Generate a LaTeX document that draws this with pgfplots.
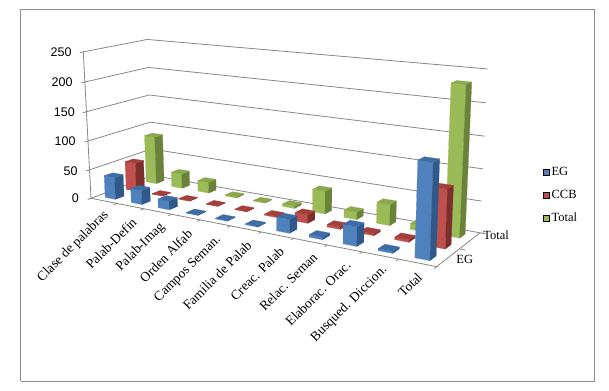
\documentclass[border=0pt]{standalone}
\usepackage{fontspec}
\setmainfont{Liberation Serif}
\newfontfamily\sansf{Liberation Sans}
\usepackage{pgfplots}
\pgfplotsset{compat=1.18}
\definecolor{bluef}{HTML}{4F81BD}\definecolor{blues}{HTML}{30598A}\definecolor{bluet}{HTML}{3E6DA6}
\definecolor{redf}{HTML}{C0504D}\definecolor{reds}{HTML}{7C2F2D}\definecolor{redt}{HTML}{A53F3C}
\definecolor{greenf}{HTML}{9BBB59}\definecolor{greens}{HTML}{6A8239}\definecolor{greent}{HTML}{8AA84C}
\definecolor{axisgray}{HTML}{868686}
\definecolor{framegray}{HTML}{8C8C8C}
\tikzset{zl/.style={anchor=east,inner sep=0pt,font=\sansf\fontsize{12.5}{13}\selectfont},
  cl/.style={rotate=45,anchor=east,inner sep=0pt,font=\fontsize{13.5}{14}\selectfont},
  yl/.style={inner sep=0pt,font=\fontsize{12.5}{13}\selectfont}}
% projective map: category position x (0..11), series slot y (0..3), value z (0..250)
\pgfmathdeclarefunction{PX}{3}{\pgfmathparse{(91+262.7*#1/11+73.5*#2/3-10.7*#3/250)/(1-0.19*#1/11+0.08*#2/3-0.036*#3/250)}}
\pgfmathdeclarefunction{PY}{3}{\pgfmathparse{390-(198.3+17.7*#1/11-8.8*#2/3-148.3*#3/250)/(1-0.19*#1/11+0.08*#2/3-0.036*#3/250)}}
% a line or polygon given in chart coordinates
\newcommand{\chartline}[2]{\addplot[forget plot,#1] table[row sep=\\,
  x expr={PX(\thisrow{a},\thisrow{b},\thisrow{c})},
  y expr={PY(\thisrow{a},\thisrow{b},\thisrow{c})}] {a b c\\ #2};}
\newcommand{\barface}[5]{\addplot[forget plot,fill=#4,draw=#4,line width=0.2pt] table[row sep=\\,
  x expr={PX(#1+0.3+0.4*\thisrow{a},#2+0.3+0.4*\thisrow{b},#3*\thisrow{c})},
  y expr={PY(#1+0.3+0.4*\thisrow{a},#2+0.3+0.4*\thisrow{b},#3*\thisrow{c})}] {a b c\\ #5};}
% category, series slot, value, colour prefix
\newcommand{\cuboid}[4]{%
  \barface{#1}{#2}{#3}{#4f}{0 0 0\\ 1 0 0\\ 1 0 1\\ 0 0 1\\ 0 0 0\\}%
  \barface{#1}{#2}{#3}{#4s}{1 0 0\\ 1 1 0\\ 1 1 1\\ 1 0 1\\ 1 0 0\\}%
  \barface{#1}{#2}{#3}{#4t}{0 0 1\\ 1 0 1\\ 1 1 1\\ 0 1 1\\ 0 0 1\\}}
\begin{document}
\begin{tikzpicture}
\path[use as bounding box] (0,0) rectangle (609pt,390pt);
\begin{axis}[at={(0,0)},anchor=south west,x=1pt,y=1pt,xmin=0,xmax=609,ymin=0,ymax=390,
  hide axis,clip=false,
  legend style={at={(axis cs:543,224.5)},anchor=north west,draw=none,fill=none,
    font=\fontsize{12.5}{13}\selectfont,row sep=9pt,inner sep=0pt,
    /tikz/every even column/.append style={column sep=2pt}},
  legend cell align=left,
  legend image code/.code={\fill[#1] (0pt,-3pt) rectangle (6pt,3pt);},
]
% frame
\addplot[forget plot,framegray,line width=1.2pt] coordinates {(20.5,8.5) (594.3,8.5) (594.3,380.5) (20.5,380.5) (20.5,8.5)};
% walls
\chartline{axisgray,line width=0.8pt}{0 0 50\\ 0 3 50\\ 11 3 50\\}
\chartline{axisgray,line width=0.8pt}{0 0 100\\ 0 3 100\\ 11 3 100\\}
\chartline{axisgray,line width=0.8pt}{0 0 150\\ 0 3 150\\ 11 3 150\\}
\chartline{axisgray,line width=0.8pt}{0 0 200\\ 0 3 200\\ 11 3 200\\}
\chartline{axisgray,line width=0.8pt}{0 0 250\\ 0 3 250\\ 11 3 250\\}
\chartline{axisgray,line width=0.8pt}{0 0 0\\ 0 3 0\\ 11 3 0\\ 11 0 0\\ 0 0 0\\ 0 0 250\\}
% ticks
\chartline{axisgray,line width=0.8pt}{0 0 0\\ 0 -0.15 0\\}
\chartline{axisgray,line width=0.8pt}{0 0 50\\ 0 -0.15 50\\}
\chartline{axisgray,line width=0.8pt}{0 0 100\\ 0 -0.15 100\\}
\chartline{axisgray,line width=0.8pt}{0 0 150\\ 0 -0.15 150\\}
\chartline{axisgray,line width=0.8pt}{0 0 200\\ 0 -0.15 200\\}
\chartline{axisgray,line width=0.8pt}{0 0 250\\ 0 -0.15 250\\}
\chartline{axisgray,line width=0.8pt}{1 0 0\\ 1 -0.15 0\\}
\chartline{axisgray,line width=0.8pt}{2 0 0\\ 2 -0.15 0\\}
\chartline{axisgray,line width=0.8pt}{3 0 0\\ 3 -0.15 0\\}
\chartline{axisgray,line width=0.8pt}{4 0 0\\ 4 -0.15 0\\}
\chartline{axisgray,line width=0.8pt}{5 0 0\\ 5 -0.15 0\\}
\chartline{axisgray,line width=0.8pt}{6 0 0\\ 6 -0.15 0\\}
\chartline{axisgray,line width=0.8pt}{7 0 0\\ 7 -0.15 0\\}
\chartline{axisgray,line width=0.8pt}{8 0 0\\ 8 -0.15 0\\}
\chartline{axisgray,line width=0.8pt}{9 0 0\\ 9 -0.15 0\\}
\chartline{axisgray,line width=0.8pt}{10 0 0\\ 10 -0.15 0\\}
\chartline{axisgray,line width=0.8pt}{11 0 0\\ 11 -0.15 0\\}
\chartline{axisgray,line width=0.8pt}{11 1.5 0\\ 11.15 1.5 0\\}
\chartline{axisgray,line width=0.8pt}{11 3 0\\ 11.15 3 0\\}
% Total (back row)
\cuboid{0}{2}{85}{green}
\cuboid{1}{2}{26}{green}
\cuboid{2}{2}{19}{green}
\cuboid{3}{2}{2}{green}
\cuboid{4}{2}{1}{green}
\cuboid{5}{2}{4}{green}
\cuboid{6}{2}{38}{green}
\cuboid{7}{2}{12}{green}
\cuboid{8}{2}{34}{green}
\cuboid{9}{2}{9}{green}
\cuboid{10}{2}{232}{green}
% CCB
\cuboid{0}{1}{50}{red}
\cuboid{1}{1}{1}{red}
\cuboid{2}{1}{1}{red}
\cuboid{3}{1}{1}{red}
\cuboid{4}{1}{1}{red}
\cuboid{5}{1}{2}{red}
\cuboid{6}{1}{14}{red}
\cuboid{7}{1}{4}{red}
\cuboid{8}{1}{3}{red}
\cuboid{9}{1}{4}{red}
\cuboid{10}{1}{90}{red}
% EG
\cuboid{0}{0}{38}{blue}
\cuboid{1}{0}{24}{blue}
\cuboid{2}{0}{15}{blue}
\cuboid{3}{0}{1}{blue}
\cuboid{4}{0}{1}{blue}
\cuboid{5}{0}{1.5}{blue}
\cuboid{6}{0}{22}{blue}
\cuboid{7}{0}{4}{blue}
\cuboid{8}{0}{30}{blue}
\cuboid{9}{0}{3}{blue}
\cuboid{10}{0}{142}{blue}
% legend
\addlegendimage{fill=bluef}\addlegendentry{EG}
\addlegendimage{fill=redf}\addlegendentry{CCB}
\addlegendimage{fill=greenf}\addlegendentry{Total}
% labels
\node[zl] at (axis cs:71.7,337.3) {250};
\node[zl] at (axis cs:72.7,307.3) {200};
\node[zl] at (axis cs:75,277.3) {150};
\node[zl] at (axis cs:75.7,248.3) {100};
\node[zl] at (axis cs:77.7,219) {50};
\node[zl] at (axis cs:79,192) {0};
\node[cl] at (axis cs:106.7,177) {Clase de palabras};
\node[cl] at (axis cs:134.3,170) {Palab-Defin};
\node[cl] at (axis cs:162.7,165) {Palab-Imag};
\node[cl] at (axis cs:190,158.3) {Orden Alfab};
\node[cl] at (axis cs:219,152) {Campos Seman.};
\node[cl] at (axis cs:249.3,147) {Familia de Palab};
\node[cl] at (axis cs:281.7,141) {Creac. Palab};
\node[cl] at (axis cs:315,135) {Relac. Seman};
\node[cl] at (axis cs:348.3,127) {Elaborac. Orac.};
\node[cl] at (axis cs:385,122) {Busqued. Diccion.};
\node[cl] at (axis cs:420,115) {Total};
\node[yl] at (axis cs:464.7,130.7) {EG};
\node[yl] at (axis cs:496,154.3) {Total};
\end{axis}
\end{tikzpicture}
\end{document}
